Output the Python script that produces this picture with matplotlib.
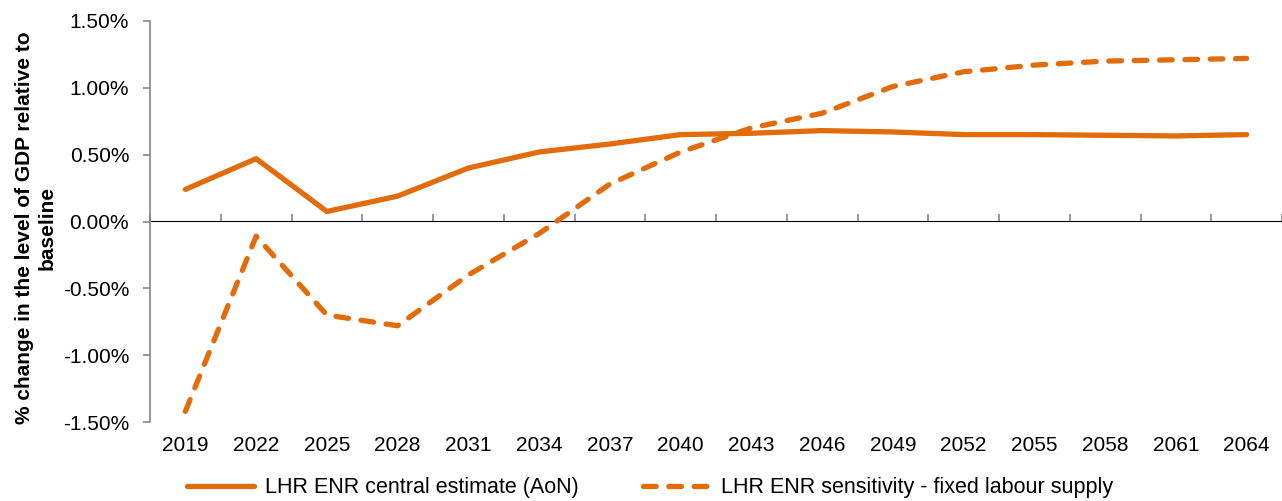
import matplotlib
matplotlib.use("Agg")
import matplotlib.pyplot as plt
from matplotlib.ticker import FuncFormatter

years = ["2019", "2022", "2025", "2028", "2031", "2034", "2037", "2040",
         "2043", "2046", "2049", "2052", "2055", "2058", "2061", "2064"]
central = [0.24, 0.47, 0.075, 0.19, 0.40, 0.52, 0.58, 0.65,
           0.66, 0.68, 0.67, 0.65, 0.65, 0.645, 0.64, 0.65]
fixed_labour = [-1.42, -0.11, -0.70, -0.78, -0.40, -0.09, 0.28, 0.52,
                0.70, 0.81, 1.01, 1.12, 1.17, 1.20, 1.21, 1.22]
label_central = "LHR ENR central estimate (AoN)"
label_fixed = "LHR ENR sensitivity - fixed labour supply"
ylabel = "% change in the level of GDP relative to\nbaseline"

plt.rcParams['font.family'] = ['Liberation Sans', 'DejaVu Sans']
color = '#E26B0A'
grey = '#868686'

fig = plt.figure(figsize=(12.82, 5.01), dpi=100)
ax = fig.add_axes([150/1282, 1 - 422/501, 1 - 150/1282, (422 - 21)/501])

x = list(range(len(years)))
ax.plot(x, central, color=color, lw=3.8, solid_capstyle='round',
        solid_joinstyle='round', label=label_central)
ax.plot(x, fixed_labour, color=color, lw=3.8, linestyle=(0, (2.4, 2.4)),
        dash_capstyle='round', dash_joinstyle='round', label=label_fixed)

ax.set_xlim(-0.5, len(years) - 0.5)
ax.set_ylim(-1.5, 1.5)
ax.set_yticks([-1.5, -1.0, -0.5, 0.0, 0.5, 1.0, 1.5])
ax.yaxis.set_major_formatter(FuncFormatter(lambda v, p: f"{v:.2f}%"))
ax.tick_params(axis='y', direction='out', length=5, width=1.2, color=grey,
               labelsize=15, pad=10)

ax.set_xticks(x)
ax.set_xticklabels(years)
ax.tick_params(axis='x', length=0, labelsize=15, pad=10)

for s in ['top', 'right', 'bottom']:
    ax.spines[s].set_visible(False)
ax.spines['left'].set_color(grey)
ax.spines['left'].set_linewidth(1.2)

sec = ax.secondary_xaxis(0.5)
sec.set_xticks([i - 0.5 for i in range(len(years) + 1)])
sec.set_xticklabels([])
sec.tick_params(axis='x', direction='out', length=5, width=1.2, color=grey)
sec.spines['bottom'].set_color(grey)
sec.spines['bottom'].set_linewidth(1.2)

fig.text(36/1282, 1 - 228/501, ylabel, rotation=90, ha='center', va='center',
         fontsize=15, fontweight='bold', multialignment='center',
         linespacing=1.2)

fig.legend(loc='center', bbox_to_anchor=(0.507, 0.026), ncol=2, frameon=False,
           fontsize=15.5, handlelength=3.1, columnspacing=3.0, handletextpad=0.5)

fig.savefig("out.png", dpi=100)
